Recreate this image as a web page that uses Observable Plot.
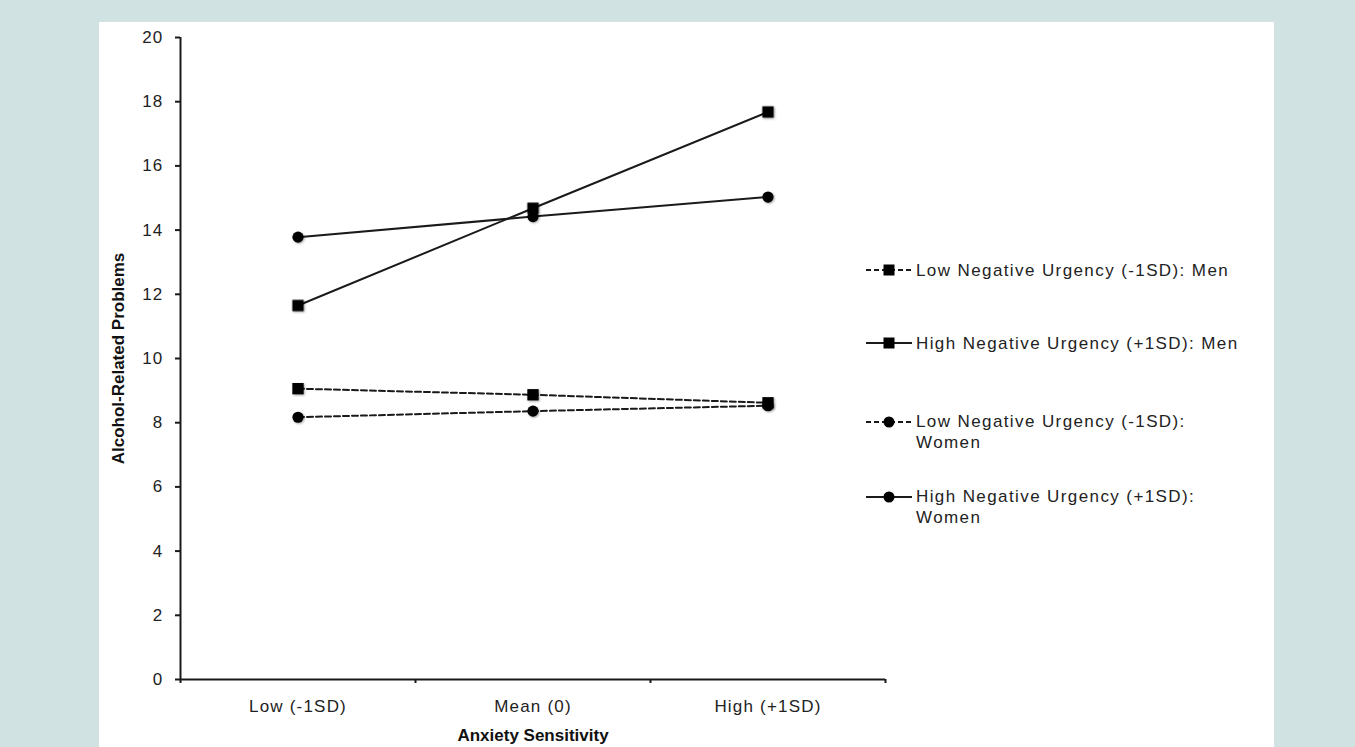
<!DOCTYPE html>
<html>
<head>
<meta charset="utf-8">
<script src="https://cdn.jsdelivr.net/npm/d3@7"></script>
<script src="https://cdn.jsdelivr.net/npm/@observablehq/plot@0.6"></script>
<style>
  html, body { margin: 0; padding: 0; }
  body { width: 1355px; height: 747px; background: #d1e2e2; position: relative; overflow: hidden;
         font-family: "Liberation Sans", Arial, sans-serif; }
  #panel { position: absolute; left: 99px; top: 22px; width: 1175px; height: 725px; background: #ffffff; }
  #chart { position: absolute; left: 0; top: 0; }
  #chart g[aria-label="y-axis tick label"] text,
  #chart g[aria-label="x-axis tick label"] text { letter-spacing: 1.2px; }
  #chart g[aria-label="dot"] { filter: drop-shadow(1px 1.5px 1px rgba(0,0,0,0.35)); }
  .leg-sym { position: absolute; }
  .leg-txt { position: absolute; font-size: 17px; line-height: 21px; color: #222; letter-spacing: 1.4px; }
</style>
</head>
<body>
<div id="panel"></div>
<div id="chart"></div>
<div id="legend"></div>
<script>
// ---- data ----
const categories = ["Low (-1SD)", "Mean (0)", "High (+1SD)"];
const seriesNames = [
  "Low Negative Urgency (-1SD): Men",
  "High Negative Urgency (+1SD): Men",
  "Low Negative Urgency (-1SD): Women",
  "High Negative Urgency (+1SD): Women"
];
const legendLines = [
  ["Low Negative Urgency (-1SD): Men"],
  ["High Negative Urgency (+1SD): Men"],
  ["Low Negative Urgency (-1SD):", "Women"],
  ["High Negative Urgency (+1SD):", "Women"]
];
const lowNUMen = [9.06, 8.87, 8.62];
const highNUMen = [11.65, 14.68, 17.68];
const lowNUWomen = [8.17, 8.36, 8.53];
const highNUWomen = [13.78, 14.42, 15.03];
const yTicks = [0, 2, 4, 6, 8, 10, 12, 14, 16, 18, 20];
const xTitle = "Anxiety Sensitivity";
const yTitle = "Alcohol-Related Problems";

const seriesValues = [lowNUMen, highNUMen, lowNUWomen, highNUWomen];
const seriesSymbol = ["square", "square", "circle", "circle"];
const seriesDashed = [true, false, true, false];

const rows = [];
seriesNames.forEach((name, s) => {
  seriesValues[s].forEach((v, i) => rows.push({series: name, s, xi: i + 0.5, cat: categories[i], value: v}));
});

const ink = "#1a1a1a";
const marks = [];
seriesNames.forEach((name, s) => {
  const data = rows.filter(d => d.s === s);
  marks.push(Plot.line(data, {x: "xi", y: "value", stroke: ink, strokeWidth: 2,
    strokeDasharray: seriesDashed[s] ? "6,3" : null}));
});
seriesNames.forEach((name, s) => {
  const data = rows.filter(d => d.s === s);
  marks.push(Plot.dot(data, {x: "xi", y: "value", symbol: seriesSymbol[s], fill: "#000", stroke: "none",
    r: seriesSymbol[s] === "square" ? 6.4 : 5.6}));
});

const chart = Plot.plot({
  width: 1355,
  height: 747,
  marginLeft: 180,
  marginRight: 470,
  marginTop: 37,
  marginBottom: 68,
  style: {background: "transparent", fontFamily: "'Liberation Sans', Arial, sans-serif", fontSize: "17px", color: "#222", overflow: "visible"},
  x: {type: "linear", domain: [0, categories.length]},
  y: {type: "linear", domain: [0, 20]},
  marks: [
    Plot.axisY({ticks: yTicks, tickSize: 5, tickPadding: 12, strokeWidth: 2, stroke: ink, label: null, fontSize: 17}),
    Plot.axisX({ticks: d3.range(categories.length + 1), tickSize: 4, strokeWidth: 2, stroke: ink, tickFormat: () => "", label: null}),
    Plot.axisX({ticks: categories.map((c, i) => i + 0.5), tickSize: 0, tickPadding: 20,
      tickFormat: d => categories[Math.floor(d)], label: null, fontSize: 17}),
    Plot.ruleX([0], {stroke: ink, strokeWidth: 2}),
    Plot.ruleY([0], {stroke: ink, strokeWidth: 2}),
    Plot.text([xTitle], {frameAnchor: "bottom", dy: 56, lineAnchor: "middle", fontWeight: "bold", fontSize: 17, fill: "#111"}),
    Plot.text([yTitle], {frameAnchor: "left", dx: -62, rotate: -90, lineAnchor: "middle", textAnchor: "middle", fontWeight: "bold", fontSize: 17, fill: "#111"}),
    ...marks
  ]
});
document.getElementById("chart").appendChild(chart);

// ---- legend ----
const legend = document.getElementById("legend");
const rowY = [270, 343, 432, 507];
seriesNames.forEach((name, s) => {
  const lines = legendLines[s];
  const cy = rowY[s];
  const sym = d3.create("svg").attr("class", "leg-sym").attr("width", 50).attr("height", 16)
    .style("left", "864px").style("top", (lines.length === 1 ? cy : cy - 10.5) - 8 + "px");
  sym.append("line").attr("x1", 2).attr("x2", 48).attr("y1", 8).attr("y2", 8)
    .attr("stroke", ink).attr("stroke-width", 2).attr("stroke-dasharray", seriesDashed[s] ? "5,3" : null);
  if (seriesSymbol[s] === "square") {
    sym.append("rect").attr("x", 19.5).attr("y", 2.5).attr("width", 11).attr("height", 11).attr("fill", "#000");
  } else {
    sym.append("circle").attr("cx", 25).attr("cy", 8).attr("r", 5.5).attr("fill", "#000");
  }
  legend.appendChild(sym.node());
  const t = document.createElement("div");
  t.className = "leg-txt";
  t.style.left = "916px";
  t.style.top = (cy - lines.length * 10.5) + "px";
  t.innerHTML = lines.join("<br>");
  legend.appendChild(t);
});
</script>
</body>
</html>
